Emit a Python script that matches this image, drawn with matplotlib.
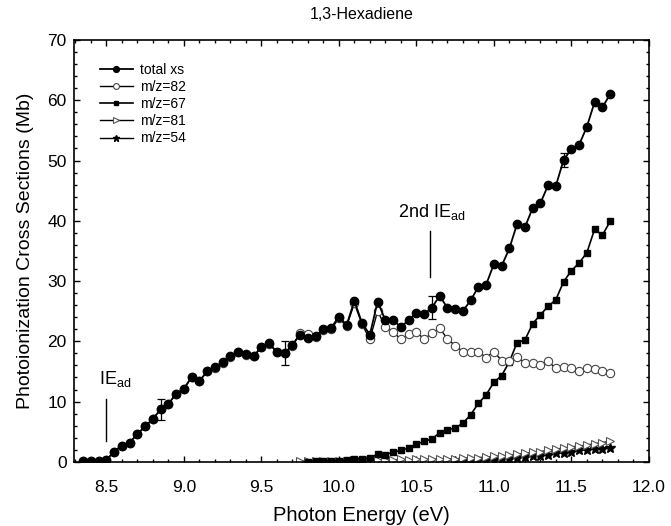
import numpy as np
import matplotlib.pyplot as plt
from matplotlib.ticker import MultipleLocator

plt.rcParams['font.family'] = ['Liberation Sans', 'DejaVu Sans']
plt.rcParams['mathtext.fontset'] = 'custom'
plt.rcParams['mathtext.rm'] = 'Liberation Sans'
plt.rcParams['mathtext.it'] = 'Liberation Sans:italic'

# photon energy grid (eV)
energy = [8.35, 8.40, 8.45, 8.50, 8.55, 8.60, 8.65, 8.70, 8.75, 8.80,
          8.85, 8.90, 8.95, 9.00, 9.05, 9.10, 9.15, 9.20, 9.25, 9.30,
          9.35, 9.40, 9.45, 9.50, 9.55, 9.60, 9.65, 9.70, 9.75, 9.80,
          9.85, 9.90, 9.95, 10.00, 10.05, 10.10, 10.15, 10.20, 10.25, 10.30,
          10.35, 10.40, 10.45, 10.50, 10.55, 10.60, 10.65, 10.70, 10.75, 10.80,
          10.85, 10.90, 10.95, 11.00, 11.05, 11.10, 11.15, 11.20, 11.25, 11.30,
          11.35, 11.40, 11.45, 11.50, 11.55, 11.60, 11.65, 11.70, 11.75]

total_xs = [0.2, 0.2, 0.1, 0.3, 1.7, 2.7, 3.2, 4.6, 5.9, 7.1,
            8.7, 9.6, 11.3, 12.1, 14.1, 13.4, 15.0, 15.7, 16.5, 17.5,
            18.3, 17.9, 17.5, 19.1, 19.7, 18.2, 18.0, 19.4, 21.1, 20.6,
            20.8, 22.0, 22.2, 24.1, 22.7, 26.7, 23.0, 21.1, 26.6, 23.5,
            23.5, 22.4, 23.5, 24.7, 24.5, 25.6, 27.5, 25.6, 25.3, 25.0,
            26.8, 29.0, 29.4, 32.8, 32.5, 35.4, 39.5, 38.9, 42.1, 42.9,
            45.9, 45.8, 50.1, 51.9, 52.6, 55.6, 59.7, 58.8, 61.0]

mz82 = [0.2, 0.2, 0.1, 0.3, 1.7, 2.7, 3.2, 4.6, 5.9, 7.1,
        8.7, 9.6, 11.3, 12.1, 14.0, 13.4, 15.0, 15.6, 16.4, 17.4,
        18.2, 17.8, 17.5, 19.0, 19.6, 18.2, 18.0, 19.3, 21.4, 21.2,
        20.7, 21.8, 22.0, 23.8, 22.5, 26.3, 22.8, 20.3, 25.0, 22.4,
        21.6, 20.3, 21.2, 21.5, 20.4, 21.3, 22.2, 20.4, 19.3, 18.3,
        18.2, 18.3, 17.3, 18.3, 16.8, 16.8, 17.4, 16.4, 16.4, 16.1,
        16.7, 15.5, 15.8, 15.5, 15.0, 15.6, 15.4, 15.0, 14.8]

# m/z=67 starts at 9.80 eV
mz67 = [0.0, 0.1, 0.1, 0.2, 0.2, 0.3, 0.4, 0.5, 0.6, 1.3,
        1.2, 1.6, 1.9, 2.3, 2.9, 3.4, 3.8, 4.8, 5.3, 5.6,
        6.4, 7.8, 9.7, 11.1, 13.2, 14.3, 16.6, 19.8, 20.2, 22.9,
        24.4, 25.8, 26.9, 29.9, 31.7, 33.0, 34.7, 38.6, 37.6, 39.9]

# m/z=81 starts at 9.75 eV
mz81 = [0.1, 0.1, 0.2, 0.1, 0.2, 0.2, 0.2, 0.3, 0.2, 0.3,
        0.3, 0.3, 0.3, 0.4, 0.3, 0.4, 0.4, 0.4, 0.5, 0.5,
        0.5, 0.6, 0.6, 0.7, 0.8, 0.9, 1.0, 1.1, 1.3, 1.4,
        1.6, 1.7, 1.9, 2.1, 2.3, 2.5, 2.6, 2.8, 3.0, 3.2, 3.4]

# m/z=54 starts at 10.75 eV
mz54 = [0.1, 0.1, 0.2, 0.2, 0.3, 0.3, 0.4, 0.5, 0.6, 0.8,
        0.9, 1.0, 1.2, 1.4, 1.5, 1.7, 1.9, 2.0, 2.2, 2.2, 2.3]

# error bars on a few total cross section points
err_energy = [8.85, 9.65, 10.60, 11.45]
err_value = [8.7, 18.0, 25.6, 50.1]
err_size = [1.7, 2.0, 1.9, 1.1]

fig = plt.figure(figsize=(6.71, 5.26), dpi=100)
ax = fig.add_axes([0.110, 0.122, 0.857, 0.802])

ax.plot(energy[48:], mz54, '-', color='black', lw=1.0, marker='*',
        ms=7, mfc='black', mec='black', label='m/z=54', zorder=2)
ax.plot(energy[28:], mz81, '-', color='black', lw=1.0, marker='>',
        ms=6, mfc='white', mec='#555555', mew=0.8, label='m/z=81', zorder=2)
ax.plot(energy[29:], mz67, '-', color='black', lw=1.2, marker='s',
        ms=5, mfc='black', mec='black', label='m/z=67', zorder=3)
ax.plot(energy, mz82, '-', color='black', lw=1.0, marker='o',
        ms=6, mfc='white', mec='#444444', mew=0.8, label='m/z=82', zorder=3)
ax.plot(energy, total_xs, '-', color='black', lw=1.3, marker='o',
        ms=6, mfc='black', mec='black', label='total xs', zorder=4)
ax.errorbar(err_energy, err_value, yerr=err_size, fmt='none',
            ecolor='black', elinewidth=0.9, capsize=3, capthick=0.9, zorder=5)

# ionization energy markers
ax.plot([8.5, 8.5], [3.5, 10.5], color='black', lw=1.0)
ax.text(8.45, 12.9, r'IE$_{\mathrm{ad}}$', fontsize=13)
ax.plot([10.59, 10.59], [30.6, 38.3], color='black', lw=1.0)
ax.text(10.38, 40.6, r'2nd IE$_{\mathrm{ad}}$', fontsize=13)

ax.set_xlim(8.29, 12.0)
ax.set_ylim(0, 70)
ax.xaxis.set_major_locator(MultipleLocator(0.5))
ax.xaxis.set_minor_locator(MultipleLocator(0.1))
ax.yaxis.set_major_locator(MultipleLocator(10))
ax.yaxis.set_minor_locator(MultipleLocator(2))
ax.xaxis.set_major_formatter(plt.FormatStrFormatter('%.1f'))
ax.tick_params(which='both', direction='in', top=True, right=True,
               labelsize=12.5, width=1.0)
ax.tick_params(which='major', length=4.5)
ax.tick_params(which='minor', length=2.5)
ax.tick_params(axis='x', which='major', pad=13)
ax.tick_params(axis='y', which='major', pad=5)
for s in ax.spines.values():
    s.set_linewidth(1.2)

ax.set_xlabel('Photon Energy (eV)', fontsize=14.5, labelpad=8)
ax.set_ylabel('Photoionization Cross Sections (Mb)', fontsize=14, labelpad=10)
ax.set_title('1,3-Hexadiene', fontsize=11.5, pad=15)

handles, labels = ax.get_legend_handles_labels()
order = [4, 3, 2, 1, 0]
ax.legend([handles[i] for i in order], [labels[i] for i in order],
          loc='upper left', bbox_to_anchor=(0.045, 0.945), frameon=False,
          fontsize=10, handlelength=2.4, handletextpad=0.5,
          labelspacing=0.22, markerscale=0.7, borderpad=0, borderaxespad=0)

fig.savefig('out.png', dpi=100)
